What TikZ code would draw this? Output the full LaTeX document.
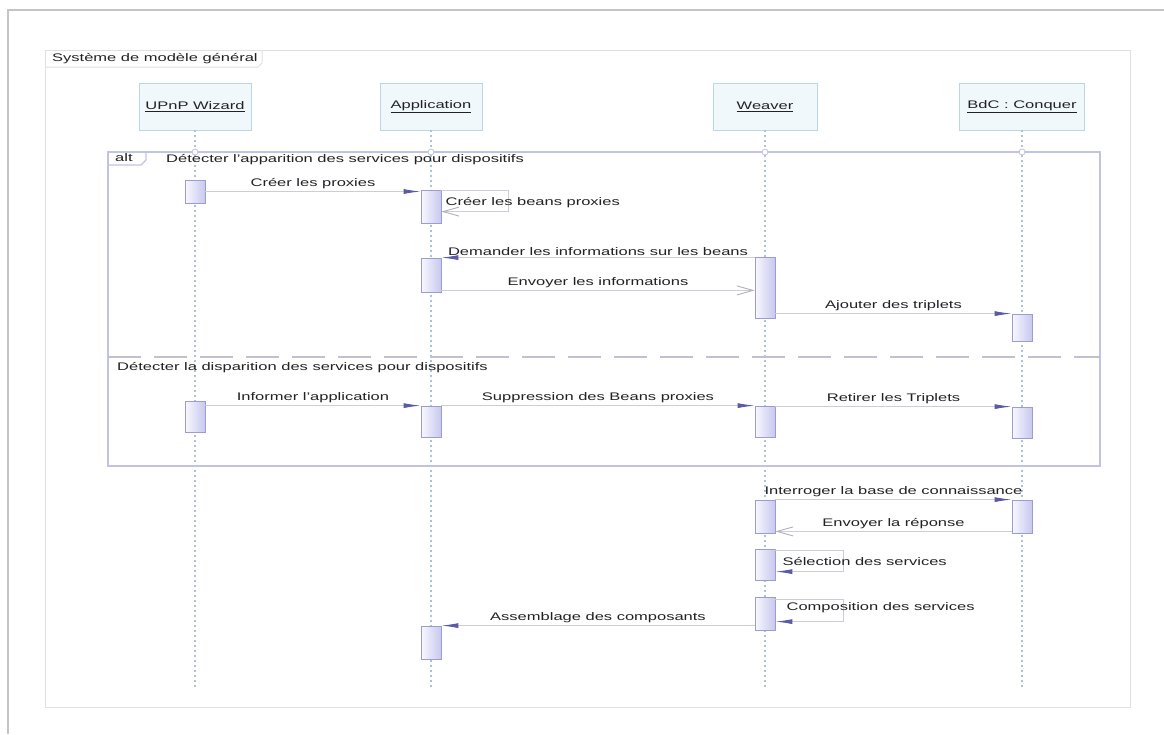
\documentclass[tikz,border=0pt]{standalone}
\usepackage{fontspec}
\setmainfont{Liberation Sans}[FakeStretch=1.5]
\usetikzlibrary{arrows.meta,calc}

\definecolor{txt}{HTML}{222222}
\definecolor{pageline}{HTML}{C4C4C4}
\definecolor{sysline}{HTML}{E0E0E0}
\definecolor{headfill}{HTML}{F0F8FC}
\definecolor{headline}{HTML}{B9D7E6}
\definecolor{lifeline}{HTML}{A9C3DA}
\definecolor{altline}{HTML}{C2C2E4}
\definecolor{divline}{HTML}{C0C0CE}
\definecolor{actline}{HTML}{9C9CD2}
\definecolor{actlight}{HTML}{F8F8FF}
\definecolor{actdark}{HTML}{C8C8EE}
\definecolor{msgline}{HTML}{CDCDD8}
\definecolor{tipfill}{HTML}{5A5AA8}
\definecolor{replytip}{HTML}{B0B0BC}

\tikzset{
  every node/.style={text=txt, inner sep=1pt, font=\fontsize{11}{13}\selectfont},
  head/.style={draw=headline, fill=headfill, line width=0.8pt, minimum height=47pt, inner sep=0pt},
  life/.style={draw=lifeline, line width=1.3pt, dash pattern=on 2pt off 3pt},
  act/.style={draw=actline, left color=actlight, right color=actdark, line width=0.8pt,
              minimum width=20pt, inner sep=0pt},
  msg/.style={draw=msgline, line width=0.9pt},
  sync/.style={msg, -{Latex[length=17pt,width=5pt,color=tipfill]}},
  reply/.style={msg, -{Straight Barb[length=16pt,width=9pt,color=replytip]}},
  lbl/.style={above=1pt},
  knot/.style={circle, draw=altline, fill=white, minimum size=6pt, inner sep=0pt, line width=0.8pt},
}

\begin{document}
\begin{tikzpicture}[x=1pt,y=-1pt]
\useasboundingbox (0,0) rectangle (1164,734);
\fill[white] (0,0) rectangle (1164,734);

% page border
\draw[pageline, line width=2pt] (8,734) -- (8,10) -- (1164,10);

% system frame with its title tab
\draw[sysline, line width=1pt] (45,50) rectangle (1130,707);
\draw[sysline, line width=1pt] (45,67) -- (258,67) -- (262,63) -- (262,50);
\node[anchor=west] (systitle) at (51,59) {Système de modèle général};

% lifeline heads
\node[head, minimum width=112pt] (wiz) at (195,106.5) {\underline{UPnP Wizard}};
\node[head, minimum width=102pt] (app) at (431,106.5) {\underline{Application}};
\node[head, minimum width=104pt] (wea) at (765,106.5) {\underline{Weaver}};
\node[head, minimum width=125pt] (bdc) at (1022,106.5) {\underline{BdC : Conquer}};

% lifelines
\coordinate (lifeend) at (0,690);
\foreach \h in {wiz,app,wea,bdc}
  \draw[life] (\h.south) -- (\h.south |- lifeend);

% combined fragment "alt"
\draw[altline, line width=1.3pt] (108,152) rectangle (1100,466);
\draw[altline, line width=1.1pt] (108,165) -- (141,165) -- (146,160) -- (146,152);
\node[anchor=west] (alttag) at (114,158) {alt};
\node[anchor=west] (guard1) at (165,160) {Détecter l'apparition des services pour dispositifs};
\draw[divline, line width=1.2pt, dash pattern=on 33pt off 13pt] (108,357) -- (1100,357);
\node[anchor=west] (guard2) at (116,368) {Détecter la disparition des services pour dispositifs};
\coordinate (alttop) at (0,152);
\foreach \h in {wiz,app,wea,bdc}
  \node[knot] (k\h) at (\h.south |- alttop) {};

% activation bars
\node[act, minimum height=23pt] (wizA1) at (195,191.5) {};
\node[act, minimum height=33pt] (appA1) at (431,206.5) {};
\node[act, minimum height=34pt] (appA2) at (431,275) {};
\node[act, minimum height=61pt] (weaA1) at (765,287.5) {};
\node[act, minimum height=27pt] (bdcA1) at (1022,327.5) {};
\node[act, minimum height=31pt] (wizA2) at (195,416.5) {};
\node[act, minimum height=31pt] (appA3) at (431,421.5) {};
\node[act, minimum height=31pt] (weaA2) at (765,421.5) {};
\node[act, minimum height=31pt] (bdcA2) at (1022,422.5) {};
\node[act, minimum height=33pt] (weaA3) at (765,516.5) {};
\node[act, minimum height=33pt] (bdcA3) at (1022,516.5) {};
\node[act, minimum height=31pt] (weaA4) at (765,564.5) {};
\node[act, minimum height=33pt] (weaA5) at (765,613.5) {};
\node[act, minimum height=33pt] (appA4) at (431,642.5) {};

% messages
\draw[sync] (wizA1.east) -- (wizA1.east -| appA1.west)
  node[midway, lbl] {Créer les proxies};

\draw[reply] ($(appA1.north east)+(0,1)$) -- ++(67,0) -- ++(0,21) -- ($(appA1.north east)+(0,22)$);
\node[anchor=west] (selfA) at ($(appA1.north east)+(3,13)$) {Créer les beans proxies};

\draw[sync] (weaA1.north west |- appA2.north) -- (appA2.north east)
  node[midway, lbl] {Demander les informations sur les beans};

\draw[reply] ($(appA2.south east)+(0,-2)$) -- ($(appA2.south east -| weaA1.west)+(0,-2)$)
  node[midway, lbl] {Envoyer les informations};

\draw[sync] (weaA1.east |- bdcA1.north) -- (bdcA1.north west)
  node[midway, lbl] {Ajouter des triplets};

\draw[sync] (wizA2.east |- appA3.north) -- (appA3.north west)
  node[midway, lbl] {Informer l'application};

\draw[sync] (appA3.north east) -- (weaA2.north west)
  node[midway, lbl] {Suppression des Beans proxies};

\draw[sync] (weaA2.east |- bdcA2.north) -- (bdcA2.north west)
  node[midway, lbl] {Retirer les Triplets};

\draw[sync] (weaA3.north east) -- (bdcA3.north west)
  node[midway, lbl] {Interroger la base de connaissance};

\draw[reply] ($(bdcA3.south west)+(0,-2)$) -- ($(weaA3.south east)+(0,-2)$)
  node[midway, lbl] {Envoyer la réponse};

\draw[sync] ($(weaA4.north east)+(0,2)$) -- ++(68,0) -- ++(0,21) -- ($(weaA4.north east)+(0,23)$);
\node[anchor=west] (selfB) at ($(weaA4.north east)+(6,13)$) {Sélection des services};

\draw[sync] ($(weaA5.north east)+(0,3)$) -- ++(68,0) -- ++(0,22) -- ($(weaA5.north east)+(0,25)$);
\node[anchor=west] (selfC) at ($(weaA5.north east)+(10,11)$) {Composition des services};

\draw[sync] (weaA5.west |- appA4.north) -- (appA4.north east)
  node[midway, lbl] {Assemblage des composants};
\end{tikzpicture}
\end{document}
